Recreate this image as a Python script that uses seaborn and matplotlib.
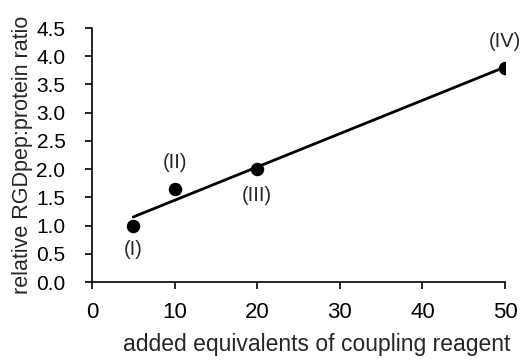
import numpy as np
import pandas as pd
import matplotlib
matplotlib.use("Agg")
import matplotlib.pyplot as plt
import seaborn as sns

# data
equivalents = [5, 10, 20, 50]
ratio = [1.0, 1.65, 2.0, 3.8]
labels = ["(I)", "(II)", "(III)", "(IV)"]
label_offsets = [(0, -17), (0, 19), (0, -19), (0, 19)]

df = pd.DataFrame({"eq": equivalents, "ratio": ratio})

sns.set_style("ticks")
plt.rcParams["font.family"] = ["Liberation Sans", "DejaVu Sans"]

fig, ax = plt.subplots(figsize=(5.25, 3.64), dpi=100)
sns.regplot(data=df, x="eq", y="ratio", ci=None, ax=ax,
            scatter_kws={"s": 75, "color": "black", "alpha": 1, "zorder": 3},
            line_kws={"color": "black", "lw": 2})

for x, y, lab, off in zip(equivalents, ratio, labels, label_offsets):
    ax.annotate(lab, (x, y), xytext=off, textcoords="offset points",
                ha="center", va="center", fontsize=14.5)

ax.set_xlim(0, 50)
ax.set_ylim(0, 4.5)
ax.set_xticks(np.arange(0, 51, 10))
ax.set_yticks(np.arange(0, 4.51, 0.5))
ax.set_yticklabels([f"{v:.1f}" for v in np.arange(0, 4.51, 0.5)])
ax.tick_params(direction="out", length=5, width=1.2, colors="black")
ax.tick_params(axis="x", labelsize=16, pad=9)
ax.tick_params(axis="y", labelsize=15, pad=14)
for side in ["left", "bottom"]:
    ax.spines[side].set_linewidth(1.2)
    ax.spines[side].set_color("black")
sns.despine(ax=ax)

ax.set_xlabel("added equivalents of coupling reagent", fontsize=16.5)
ax.xaxis.set_label_coords(0.545, -0.2)
ax.set_ylabel("relative RGDpep:protein ratio", fontsize=15.5)
ax.yaxis.set_label_coords(-0.143, 0.5)

fig.subplots_adjust(left=0.175, right=0.962, top=0.923, bottom=0.225)
fig.savefig("out.png", dpi=100)
